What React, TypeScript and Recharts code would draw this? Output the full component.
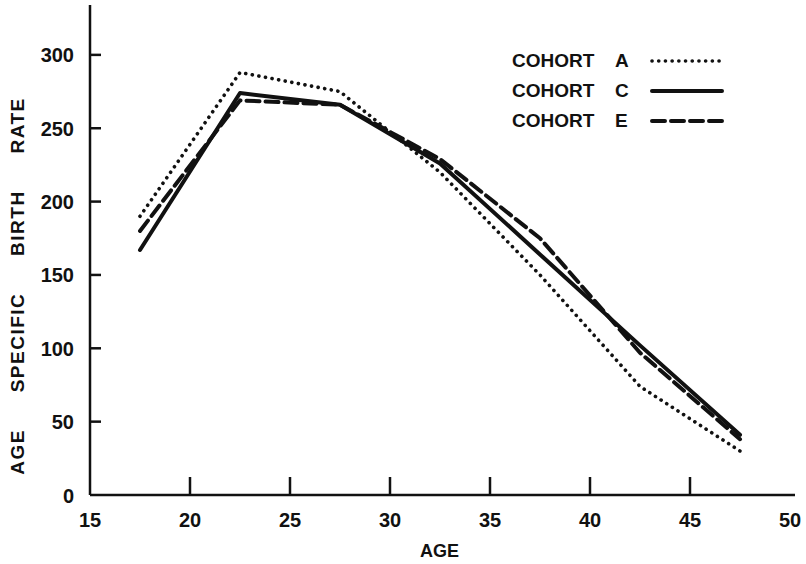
import React from "react";
import { LineChart, Line, XAxis, YAxis, Legend } from "recharts";

const ages = [17.5, 22.5, 27.5, 32.5, 37.5, 42.5, 47.5];
const cohortA = [190, 288, 275, 220, 150, 74, 30];
const cohortC = [167, 274, 266, 226, 164, 102, 41];
const cohortE = [180, 269, 266, 229, 175, 97, 38];

const xTicks = [15, 20, 25, 30, 35, 40, 45, 50];
const yTicks = [0, 50, 100, 150, 200, 250, 300];

const data = ages.map((age, i) => ({
  age,
  A: cohortA[i],
  C: cohortC[i],
  E: cohortE[i],
}));

const FONT = "'Liberation Sans', Arial, sans-serif";
const INK = "#111";

const series = [
  { key: "A", name: "COHORT", letter: "A", dash: "0.1 6.6", width: 3.6 },
  { key: "C", name: "COHORT", letter: "C", dash: undefined, width: 4 },
  { key: "E", name: "COHORT", letter: "E", dash: "13 6", width: 4 },
];

const XTick = ({ x, y, payload }: any) => {
  const v = payload.value;
  return (
    <g>
      {v !== 15 && v !== 50 && (
        <line x1={x} x2={x} y1={y} y2={y - 18} stroke={INK} strokeWidth={2.5} />
      )}
      <text x={x} y={y + 32} textAnchor="middle" fontFamily={FONT} fontWeight={700} fontSize={20} fill={INK}>
        {v}
      </text>
    </g>
  );
};

const YTick = ({ x, y, payload }: any) => {
  const v = payload.value;
  return (
    <g>
      {v !== 0 && <line x1={x} x2={x + 11} y1={y} y2={y} stroke={INK} strokeWidth={2.5} />}
      <text x={x - 16} y={y + 7.5} textAnchor="end" fontFamily={FONT} fontWeight={700} fontSize={20} fill={INK}>
        {v}
      </text>
    </g>
  );
};

const YLabel = () => (
  <text
    transform="translate(24,286) rotate(-90)"
    textAnchor="middle"
    fontFamily={FONT}
    fontWeight={700}
    fontSize={19}
    fill={INK}
    style={{ wordSpacing: 30, letterSpacing: 1.5 }}
  >
    AGE SPECIFIC BIRTH RATE
  </text>
);

const XLabel = ({ viewBox }: any) => (
  <text
    x={viewBox.x + viewBox.width / 2 - 3}
    y={viewBox.y + 62}
    textAnchor="middle"
    fontFamily={FONT}
    fontWeight={700}
    fontSize={18}
    fill={INK}
  >
    AGE
  </text>
);

const CohortLegend = () => (
  <div style={{ fontFamily: FONT, fontWeight: 700, fontSize: 19, color: INK }}>
    {series.map((s) => (
      <div key={s.key} style={{ display: "flex", alignItems: "center", height: 30 }}>
        <span style={{ width: 103 }}>{s.name}</span>
        <span style={{ width: 35 }}>{s.letter}</span>
        <svg width={74} height={10}>
          <line
            x1={2}
            x2={72}
            y1={5}
            y2={5}
            stroke={INK}
            strokeWidth={s.width}
            strokeDasharray={s.dash}
            strokeLinecap="round"
          />
        </svg>
      </div>
    ))}
  </div>
);

export default function App() {
  return (
    <div style={{ position: "absolute", left: 0, top: 0, background: "#fff" }}>
      <LineChart width={806} height={564} data={data} margin={{ top: 5, right: 11, bottom: 0, left: 0 }}>
        <XAxis
          dataKey="age"
          type="number"
          domain={[15, 50.25]}
          ticks={xTicks}
          height={69}
          tickSize={0}
          tickMargin={0}
          tickLine={false}
          tick={<XTick />}
          axisLine={{ stroke: INK, strokeWidth: 2.5 }}
          label={{ content: (p: any) => <XLabel {...p} /> }}
          interval={0}
        />
        <YAxis
          type="number"
          domain={[0, 334]}
          ticks={yTicks}
          width={90}
          tickSize={0}
          tickMargin={0}
          tickLine={false}
          tick={<YTick />}
          axisLine={{ stroke: INK, strokeWidth: 2.5 }}
          label={{ content: () => <YLabel /> }}
          interval={0}
        />
        <Legend
          layout="vertical"
          align="center"
          verticalAlign="middle"
          content={() => <CohortLegend />}
          wrapperStyle={{ left: 512, top: 46, width: "auto" }}
        />
        {series.map((s) => (
          <Line
            key={s.key}
            type="linear"
            dataKey={s.key}
            stroke={INK}
            strokeWidth={s.width}
            strokeDasharray={s.dash}
            strokeLinecap="round"
            strokeLinejoin="round"
            dot={false}
            activeDot={false}
            isAnimationActive={false}
          />
        ))}
      </LineChart>
    </div>
  );
}
